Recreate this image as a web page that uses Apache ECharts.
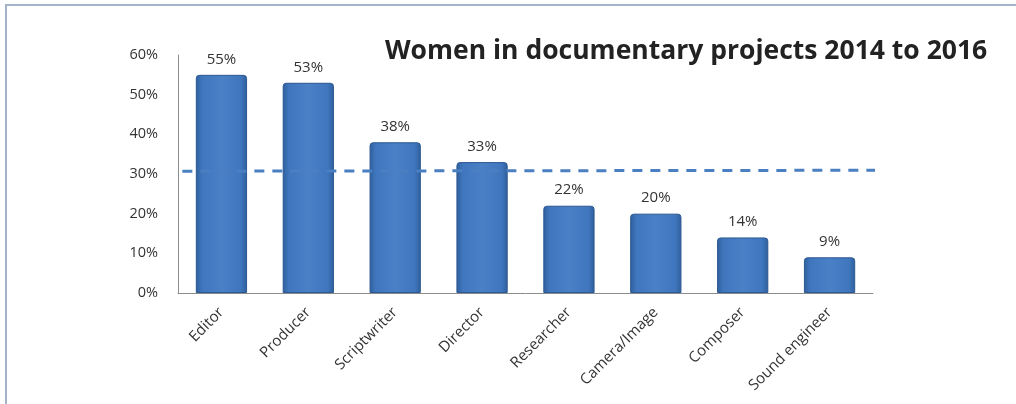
<!DOCTYPE html>
<html>
<head>
<meta charset="utf-8">
<script src="https://cdn.jsdelivr.net/npm/echarts@6/dist/echarts.min.js"></script>
<style>
  html, body { margin: 0; padding: 0; background: #fff; }
  #chart { width: 1016px; height: 404px; }
</style>
</head>
<body>
<div id="chart"></div>
<script>
const roles = ['Editor', 'Producer', 'Scriptwriter', 'Director', 'Researcher', 'Camera/Image', 'Composer', 'Sound engineer']
const womenShare = [55, 53, 38, 33, 22, 20, 14, 9]
// dashed reference line, drawn slightly slanted like the original
const refLineX = [0.05, 8.23]
const refLineY = [30.7, 30.95]
const yTicks = [0, 10, 20, 30, 40, 50, 60]

const chart = echarts.init(document.getElementById('chart'))

chart.setOption({
  animation: false,
  textStyle: { fontFamily: '"Open Sans", sans-serif' },
  title: {
    text: 'Women in documentary projects 2014 to 2016',
    left: 380,
    top: 33,
    textStyle: {
      fontFamily: '"Open Sans", sans-serif',
      fontSize: 26.5,
      fontWeight: 'bold',
      color: '#222'
    }
  },
  graphic: [{
    type: 'rect',
    silent: true,
    shape: { x: 6, y: 5, width: 1030, height: 420 },
    style: { fill: 'none', stroke: '#a3b4ca', lineWidth: 2 }
  }],
  grid: { left: 178, right: 143, top: 55, bottom: 111 },
  xAxis: [{
    type: 'category',
    data: roles,
    axisLine: { lineStyle: { color: '#8c8c8c', width: 1 } },
    axisTick: { show: false },
    axisLabel: {
      rotate: 45,
      interval: 0,
      margin: 17,
      fontSize: 15,
      color: '#333'
    }
  }, {
    type: 'value',
    min: 0,
    max: 8,
    show: false
  }],
  yAxis: {
    type: 'value',
    min: 0,
    max: 60,
    interval: 10,
    axisLine: { show: true, lineStyle: { color: '#8c8c8c', width: 1 } },
    axisTick: { show: false },
    splitLine: { show: false },
    axisLabel: {
      margin: 20,
      fontSize: 14.5,
      color: '#333',
      formatter: v => yTicks.includes(v) ? v + '%' : ''
    }
  },
  series: [{
    type: 'bar',
    xAxisIndex: 0,
    data: womenShare,
    barWidth: '59%',
    itemStyle: {
      color: new echarts.graphic.LinearGradient(0, 0, 1, 0, [
        { offset: 0, color: '#2f5f9c' },
        { offset: 0.12, color: '#3f76bd' },
        { offset: 0.5, color: '#4a80c6' },
        { offset: 0.88, color: '#3f76bd' },
        { offset: 1, color: '#2f5f9c' }
      ]),
      borderColor: '#2b5890',
      borderWidth: 1,
      borderRadius: [3, 3, 0, 0]
    },
    label: {
      show: true,
      position: 'top',
      distance: 8,
      fontSize: 15,
      color: '#333',
      formatter: p => p.value + '%'
    }
  }, {
    type: 'line',
    xAxisIndex: 1,
    clip: false,
    symbol: 'none',
    silent: true,
    data: refLineX.map((x, i) => [x, refLineY[i]]),
    lineStyle: { color: '#4a7fc1', width: 3, type: [10, 8] }
  }]
})
</script>
</body>
</html>
